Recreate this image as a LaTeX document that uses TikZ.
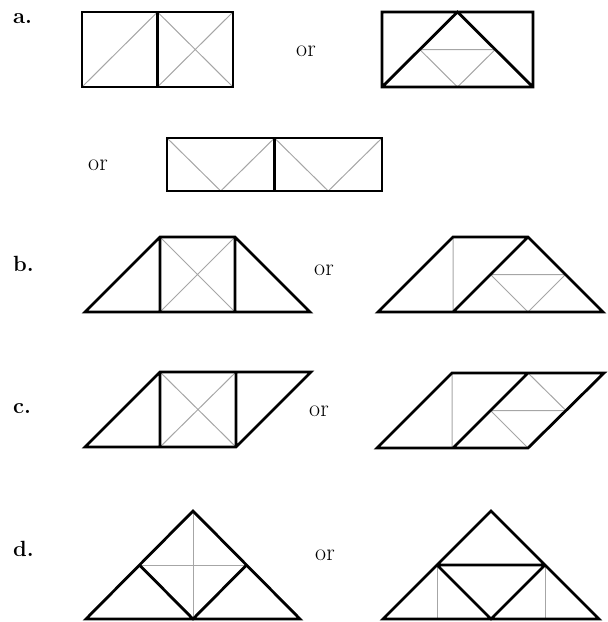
\documentclass[tikz,border=0pt]{standalone}
\begin{document}
\begin{tikzpicture}[x=1pt,y=-1pt,
  thk/.style={line width=2.8pt,black,line join=miter},
  thn/.style={line width=1pt,black!35},
  lbl/.style={font=\fontsize{22}{26}\selectfont\bfseries,anchor=base west,inner sep=0pt},
  ortxt/.style={font=\fontsize{24}{28}\selectfont,anchor=base,inner sep=0pt}]
\useasboundingbox (0,0) rectangle (608,622);
% labels
\node[lbl] (la) at (13,23) {a.};
\node[lbl] (lb) at (13,271) {b.};
\node[lbl] (lc) at (13,413) {c.};
\node[lbl] (ld) at (13,556) {d.};
\node[ortxt] (o1) at (306,56) {or};
\node[ortxt] (o2) at (98,170) {or};
\node[ortxt] (o3) at (324,275) {or};
\node[ortxt] (o4) at (319,416) {or};
\node[ortxt] (o5) at (325,560) {or};
% a1
\draw[thn] (82,87)--(157.5,12) (157.5,12)--(233,87) (157.5,87)--(233,12);
\draw[thk] (82,12) rectangle (233,87) (157.5,12)--(157.5,87);
% a2
\draw[thn] (419.75,49.5)--(495.25,49.5)--(457.5,87)--cycle;
\draw[thk] (382,12) rectangle (533,87) (382,87)--(457.5,12)--(533,87);
% a3
\draw[thn] (167,138)--(220.75,191)--(274.5,138)--(328.25,191)--(382,138);
\draw[thk] (167,138) rectangle (382,191) (274.5,138)--(274.5,191);
% b1
\draw[thn] (160,237)--(235,312) (160,312)--(235,237);
\draw[thk] (85,312)--(160,237)--(235,237)--(310,312)--cycle (160,237)--(160,312) (235,237)--(235,312);
% b2
\draw[thn] (453,237)--(453,312) (490.5,274.5)--(565.5,274.5)--(528,312)--cycle;
\draw[thk] (378,312)--(453,237)--(528,237)--(603,312)--cycle (528,237)--(453,312);
% c1
\draw[thn] (160,372)--(236,447) (160,447)--(236,372);
\draw[thk] (85,447)--(160,372)--(311,372)--(236,447)--cycle (160,372)--(160,447) (236,372)--(236,447);
% c2
\draw[thn] (452,373)--(452,448) (528,373)--(566,410.5)--(490.5,410.5)--(528,448);
\draw[thk] (377,448)--(452,373)--(604,373)--(528,448)--cycle (528,373)--(453,448);
% d1
\draw[thn] (193,511)--(193,619) (139.5,565)--(246.5,565);
\draw[thk] (86,619)--(193,511)--(300,619)--cycle (139.5,565)--(193,619)--(246.5,565);
% d2
\draw[thn] (437,565)--(437,619) (545,565)--(545,619);
\draw[thk] (383,619)--(491,511)--(599,619)--cycle (437,565)--(545,565) (437,565)--(491,619)--(545,565);
\end{tikzpicture}
\end{document}
